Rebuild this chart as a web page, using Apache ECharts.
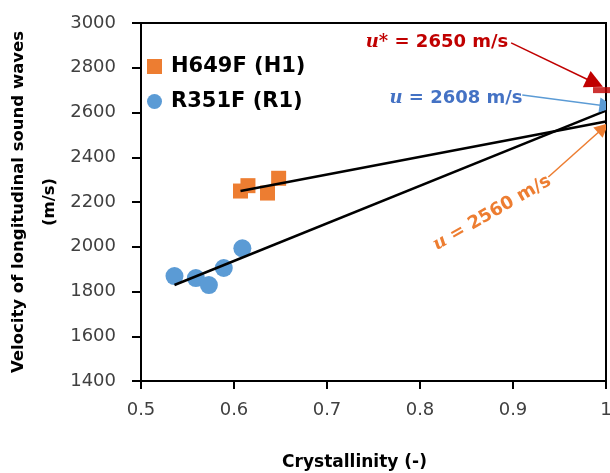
<!DOCTYPE html>
<html>
<head>
<meta charset="utf-8">
<script src="https://cdn.jsdelivr.net/npm/echarts@6/dist/echarts.min.js"></script>
<style>
  html, body { margin: 0; padding: 0; background: #fff; }
  #chart { width: 610px; height: 473px; }
</style>
</head>
<body>
<div id="chart"></div>
<script>
// measured points (crystallinity, velocity m/s)
var h1X = [0.607, 0.615, 0.636, 0.648];
var h1Y = [2249, 2273, 2240, 2306];
var r1X = [0.536, 0.559, 0.573, 0.589, 0.609];
var r1Y = [1869, 1860, 1829, 1905, 1993];
// trend lines, extrapolated to crystallinity = 1
var trendH1 = [[0.607, 2249], [1, 2560]];
var trendR1 = [[0.536, 1829], [1, 2608]];
// reference value u*
var uStar = [[1, 2700]];
// annotation arrows [from, to]
var arrowRed = [[0.898, 2911], [0.988, 2732]];
var arrowBlue = [[0.910, 2678], [1.001, 2629]];
var arrowOrange = [[0.938, 2312], [0.997, 2531]];
var xTicks = { min: 0.5, max: 1, interval: 0.1 };
var yTicks = { min: 1400, max: 3000, interval: 200 };

function pairs(xs, ys) {
  var out = [];
  for (var i = 0; i < xs.length; i++) out.push([xs[i], ys[i]]);
  return out;
}

var font = 'DejaVu Sans';
var chart = echarts.init(document.getElementById('chart'));

var option = {
  backgroundColor: '#fff',
  animation: false,
  grid: {
    left: 141, right: 4, top: 23, bottom: 92,
    containLabel: false, outerBoundsMode: 'none',
    show: true, borderColor: '#000', borderWidth: 2
  },
  legend: {
    orient: 'vertical',
    left: 142, top: 51,
    itemWidth: 15, itemHeight: 15, itemGap: 14,
    data: ['H649F (H1)', 'R351F (R1)'],
    textStyle: { fontFamily: font, fontWeight: 'bold', fontSize: 21, color: '#000', padding: [0, 0, 0, 4] }
  },
  xAxis: {
    type: 'value',
    min: xTicks.min, max: xTicks.max, interval: xTicks.interval,
    name: 'Crystallinity (-)',
    nameLocation: 'middle',
    nameGap: 73,
    nameMoveOverlap: false,
    nameTextStyle: { fontFamily: font, fontWeight: 'bold', fontSize: 17, color: '#000', padding: [0, 38, 0, 0] },
    axisLine: { lineStyle: { color: '#000', width: 2 } },
    axisTick: { show: true, length: 8, lineStyle: { color: '#000', width: 2 } },
    axisLabel: { margin: 20, fontFamily: font, fontSize: 18, color: '#404040' },
    splitLine: { show: false }
  },
  yAxis: {
    type: 'value',
    min: yTicks.min, max: yTicks.max, interval: yTicks.interval,
    name: 'Velocity of longitudinal sound waves\n(m/s)',
    nameLocation: 'middle',
    nameRotate: 90,
    nameGap: 76,
    nameMoveOverlap: false,
    nameTextStyle: { fontFamily: font, fontWeight: 'bold', fontSize: 16.5, color: '#000', lineHeight: 31, align: 'center' },
    axisLine: { show: true, lineStyle: { color: '#000', width: 2 } },
    axisTick: { show: true, length: 9, lineStyle: { color: '#000', width: 2 } },
    axisLabel: {
      margin: 25, fontFamily: font, fontSize: 18, color: '#404040',
      formatter: function (v) { return String(v); }
    },
    splitLine: { show: false }
  },
  series: [
    {
      name: 'trendH1', type: 'line', data: trendH1, symbol: 'none',
      lineStyle: { color: '#000', width: 2.5 }, z: 3
    },
    {
      name: 'trendR1', type: 'line', data: trendR1, symbol: 'none',
      lineStyle: { color: '#000', width: 2.5 }, z: 3
    },
    {
      name: 'H649F (H1)', type: 'scatter', data: pairs(h1X, h1Y),
      symbol: 'rect', symbolSize: 15,
      itemStyle: { color: '#ED7D31', opacity: 1 }, z: 2
    },
    {
      name: 'R351F (R1)', type: 'scatter', data: pairs(r1X, r1Y),
      symbol: 'circle', symbolSize: 18,
      itemStyle: { color: '#5B9BD5', opacity: 1 }, z: 2
    },
    {
      name: 'uStar', type: 'scatter', data: uStar, clip: false,
      symbol: 'rect', symbolSize: [26, 6],
      itemStyle: { color: '#C00000' }, z: 4
    },
    {
      type: 'lines', coordinateSystem: 'cartesian2d', z: 5,
      symbol: ['none', 'triangle'],
      data: [
        { coords: arrowRed, lineStyle: { color: '#C00000', width: 1.5, opacity: 1 }, symbolSize: 18 },
        { coords: arrowBlue, lineStyle: { color: '#5B9BD5', width: 1.5, opacity: 1 }, symbolSize: 15 },
        { coords: arrowOrange, lineStyle: { color: '#ED7D31', width: 1.5, opacity: 1 }, symbolSize: 14 }
      ]
    }
  ],
  graphic: [
    {
      type: 'text', x: 437, y: 42,
      style: {
        text: '{u|u*}{t| = 2650 m/s}',
        align: 'center', verticalAlign: 'middle',
        rich: {
          u: { fontFamily: 'DejaVu Serif', fontStyle: 'italic', fontWeight: 'bold', fontSize: 18, fill: '#C00000' },
          t: { fontFamily: font, fontWeight: 'bold', fontSize: 18, fill: '#C00000' }
        }
      }
    },
    {
      type: 'text', x: 456, y: 98,
      style: {
        text: '{u|u}{t| = 2608 m/s}',
        align: 'center', verticalAlign: 'middle',
        rich: {
          u: { fontFamily: 'DejaVu Serif', fontStyle: 'italic', fontWeight: 'bold', fontSize: 18, fill: '#4472C4' },
          t: { fontFamily: font, fontWeight: 'bold', fontSize: 18, fill: '#4472C4' }
        }
      }
    },
    {
      type: 'text', x: 492, y: 213, rotation: Math.PI / 6,
      style: {
        text: '{u|u}{t| = 2560 m/s}',
        align: 'center', verticalAlign: 'middle',
        rich: {
          u: { fontFamily: 'DejaVu Serif', fontStyle: 'italic', fontWeight: 'bold', fontSize: 18, fill: '#ED7D31' },
          t: { fontFamily: font, fontWeight: 'bold', fontSize: 18, fill: '#ED7D31' }
        }
      }
    }
  ]
};

chart.setOption(option);
</script>
</body>
</html>
